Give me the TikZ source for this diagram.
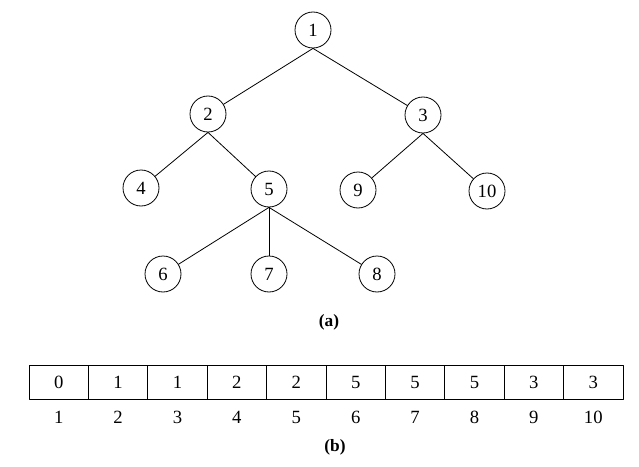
\documentclass[tikz,border=0pt]{standalone}
\usepackage{fontspec}
\setmainfont{Liberation Serif}
\begin{document}
\begin{tikzpicture}[
		x=0.75pt,
		y=-0.75pt,
		line width=0.6pt,
		line cap=round,
		line join=round,
		vertex/.style={circle,draw,minimum size=27pt,inner sep=0pt,font=\fontsize{14}{16}\selectfont},
		cell/.style={rectangle,draw,minimum width=44.55pt,minimum height=25.5pt,inner sep=0pt,font=\fontsize{14}{16}\selectfont},
		caption/.style={font=\fontsize{13}{15}\selectfont\bfseries}
		]
		\useasboundingbox (0,0) rectangle (639,467);
		% tree (a)
		\node[vertex] (n1) at (313,30) {1};
		\node[vertex] (n2) at (208,114) {2};
		\node[vertex] (n3) at (423,115) {3};
		\node[vertex] (n4) at (141,188) {4};
		\node[vertex] (n5) at (269,189) {5};
		\node[vertex] (n9) at (358,190) {9};
		\node[vertex] (n10) at (487,191) {10};
		\node[vertex] (n6) at (163,274) {6};
		\node[vertex] (n7) at (269,274) {7};
		\node[vertex] (n8) at (377,274) {8};
		\draw (n1.south) -- (n2);
		\draw (n1.south) -- (n3);
		\draw (n2.south) -- (n4);
		\draw (n2.south) -- (n5);
		\draw (n3.south) -- (n9);
		\draw (n3.south) -- (n10);
		\draw (n5.south) -- (n6);
		\draw (n5.south) -- (n7);
		\draw (n5.south) -- (n8);
		\node[caption] (capa) at (329,322) {(a)};
		% array (b)
		\foreach \v [count=\i] in {0,1,1,2,2,5,5,5,3,3}{
			\node[cell] (c\i) at ({29+59.4*(\i-0.5)},382) {\v};
			\node[font=\fontsize{14}{16}\selectfont] (k\i) at ({29+59.4*(\i-0.5)},417) {\i};
		}
		\node[caption] (capb) at (335,447) {(b)};
		\end{tikzpicture}
\end{document}
